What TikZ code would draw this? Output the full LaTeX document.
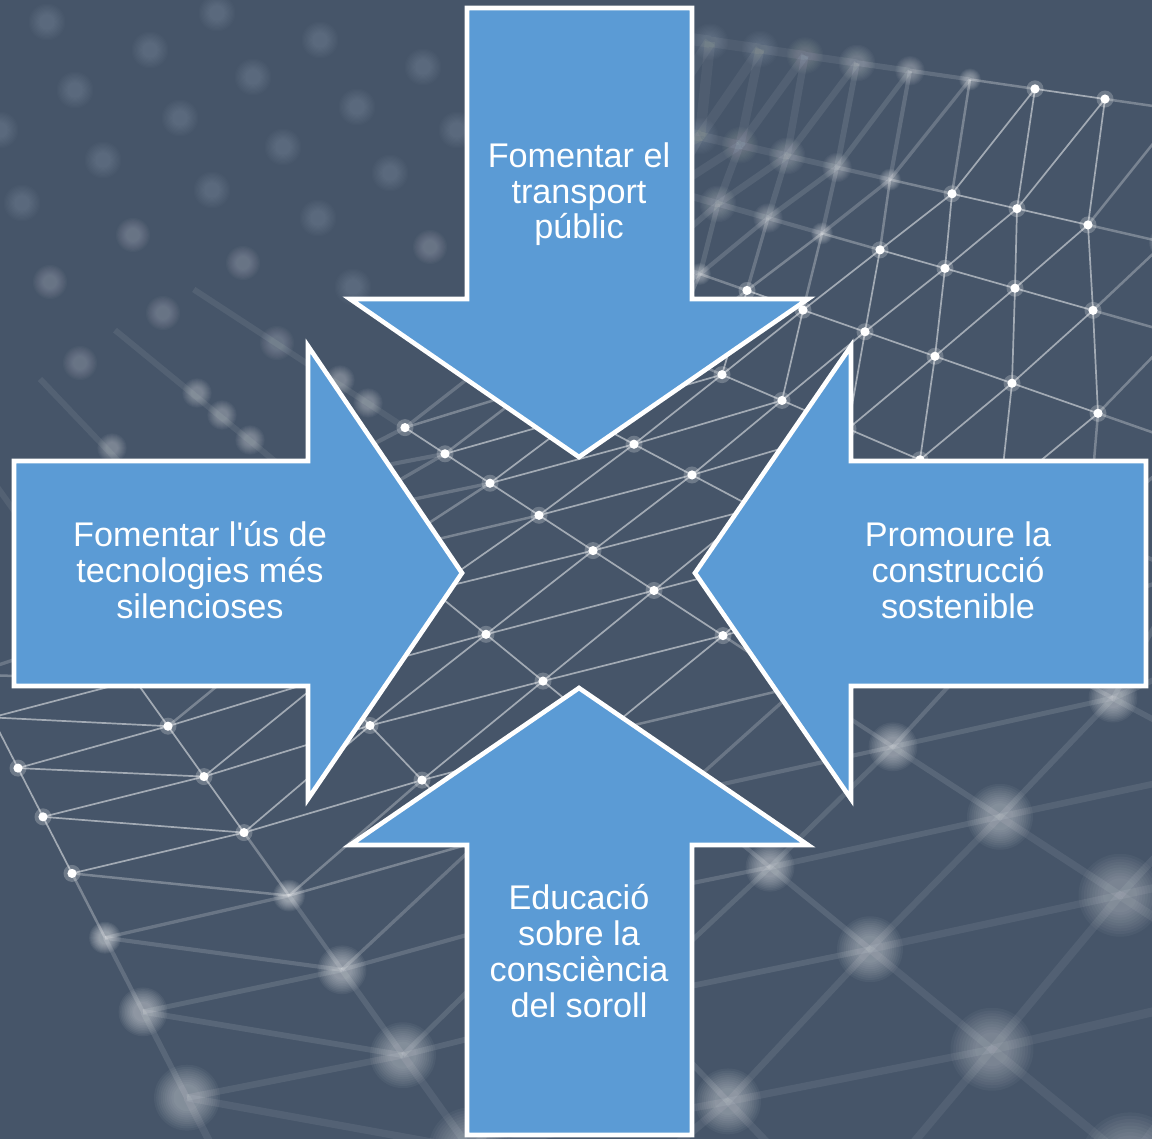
\documentclass[tikz,border=0pt]{standalone}
\usepackage{fontspec}
\setmainfont{Liberation Sans}
\usetikzlibrary{calc}

\definecolor{bgc}{HTML}{465569}
\definecolor{arrowblue}{HTML}{5B9BD5}

% one ray of the wire mesh: #1 index, #2 slope from the vanishing point,
% #3..#4 index range in focus, #5 x positions of the mesh knots
\newcommand\meshrow[5]{%
  \foreach \x [count=\k from 0] in {#5} {%
    \pgfmathtruncatemacro\bl{max(#3-\k,0,\k-#4)}%
    \coordinate (m-#1-\k) at (\x,{-125+#2*(\x+440)});%
    \expandafter\xdef\csname mb-#1-\k\endcsname{\bl}%
    \pgfmathsetmacro\rv{\k<#3 ? min(6+3*\bl,15) : 6+7*\bl}%
    \pgfmathsetmacro\al{\k<#3 ? max(0.42-0.06*\bl,0.16) : max(0.5-0.05*\bl,0.3)}%
    \expandafter\xdef\csname mr-#1-\k\endcsname{\rv}%
    \expandafter\xdef\csname ma-#1-\k\endcsname{\al}%
  }}

% a mesh wire between two knots, softer where the knots are out of focus
\newcommand\meshseg[4]{%
  \pgfmathsetmacro\bb{(\csname mb-#1-#2\endcsname+\csname mb-#3-#4\endcsname)/2}%
  \pgfmathsetmacro\op{0.5/(1+1.6*\bb)}%
  \pgfmathsetmacro\lw{1.7+1.6*\bb}%
  \draw[white,line width=\lw pt,opacity=\op] (m-#1-#2) -- (m-#3-#4);}

% a soft, out-of-focus light spot
\newcommand\blurdot[3]{%
  \pgfmathsetmacro\bo{1-(1-#3)^(0.1)}%
  \foreach \f in {0.5,0.58,0.66,0.74,0.82,0.9,0.98,1.06,1.14,1.22}{\fill[white,opacity=\bo] #1 circle ({#2*\f});}}

% a sharp knot with a small glow
\newcommand\sharpdot[1]{%
  \fill[white,opacity=0.22] #1 circle (8.5);
  \fill[white] #1 circle (4.6);}

\begin{document}
\begin{tikzpicture}[x=1pt,y=-1pt,
  arrowshape/.style={fill=arrowblue,draw=white,line width=4.6pt,line join=miter,miter limit=10},
  lbl/.style={text=white,align=center,inner sep=0pt,font=\fontsize{34.2}{35.7}\selectfont}]

\useasboundingbox (0,0) rectangle (1152,1139);
\fill[bgc] (0,0) rectangle (1152,1139);

\begin{scope}
\clip (0,0) rectangle (1152,1139);

% mesh knots
\meshrow{1}{0.145}{7}{8}{660,710,760,805,857,910,970,1035,1105,1180,1260,1340}
\meshrow{2}{0.229}{6}{8}{655,700,740,787,837,890,952,1017,1088,1165,1250,1340}
\meshrow{3}{0.284}{5}{8}{625,670,718,768,822,880,945,1015,1093,1175,1265,1360}
\meshrow{4}{0.35}{3}{8}{610,655,700,747,803,865,935,1012,1098,1190,1290,1390}
\meshrow{5}{0.43}{3}{7}{565,615,667,722,782,848,920,1000,1088,1185,1290,1400}
\meshrow{6}{0.53}{2}{7}{485,530,580,634,692,755,825,905,995,1113,1240,1380}
\meshrow{7}{0.654}{0}{6}{405,445,490,539,593,654,723,800,893,1000,1120,1260}
\meshrow{8}{0.82}{3}{6}{300,340,385,432,486,543,605,680,770,870,992,1130}
\meshrow{9}{1.05}{3}{6}{200,240,282,325,370,422,480,548,630,728,845,980}
\meshrow{10}{1.40}{1}{4}{100,135,168,204,244,289,342,403,470,545,630,720}
\meshrow{11}{1.95}{1}{4}{-30,-8,18,43,72,105,143,187,237,293,360,430}

% far ends of the lower rays, fading towards the vanishing point
\foreach \r in {7,...,11}{
  \draw[white,opacity=0.07,line width=6pt] (m-\r-0) -- ($(m-\r-0)!0.25!(-440,-125)$);}

% wires along the rays
\foreach \r in {1,...,11}{
  \foreach \k in {0,...,10}{
    \pgfmathtruncatemacro\kn{\k+1}
    \meshseg{\r}{\k}{\r}{\kn}}}
% wires across the rays and the diagonals
\foreach \r in {1,...,10}{
  \pgfmathtruncatemacro\rn{\r+1}
  \foreach \k in {0,...,11}{\meshseg{\r}{\k}{\rn}{\k}}
  \foreach \k in {0,...,10}{
    \pgfmathtruncatemacro\kn{\k+1}
    \meshseg{\rn}{\k}{\r}{\kn}}}

% knots
\foreach \r in {1,...,11}{
  \foreach \k in {0,...,11}{
    \edef\bl{\csname mb-\r-\k\endcsname}
    \ifnum\bl=0 \sharpdot{(m-\r-\k)}\else
      \blurdot{(m-\r-\k)}{\csname mr-\r-\k\endcsname}{\csname ma-\r-\k\endcsname}\fi}}

% distant, defocused knots in the upper left
\foreach \px/\py in {47/22,150/50,253/77,357/107,423/67,320/40,217/13,75/90,180/118,
  283/147,390/173,22/203,103/160,212/190,318/218,0/130,457/130,353/287}
  {\blurdot{(\px,\py)}{15}{0.14}}
\foreach \px/\py in {50/282,133/235,243/263,163/313,80/363,277/343,430/247}
  {\blurdot{(\px,\py)}{14}{0.22}}
\foreach \px/\py in {197/393,222/415,250/440,112/448,368/403,340/380}
  {\blurdot{(\px,\py)}{12}{0.3}}
\end{scope}

% four arrows pointing to the centre
\draw[arrowshape] (467,8) -- (692,8) -- (692,299) -- (808,299) -- (579,457)
  -- (350,299) -- (467,299) -- cycle;
\draw[arrowshape] (579,688) -- (808,845) -- (692,845) -- (692,1135) -- (467,1135)
  -- (467,845) -- (350,845) -- cycle;
\draw[arrowshape] (14,461) -- (308,461) -- (308,346) -- (462,573) -- (308,799)
  -- (308,686) -- (14,686) -- cycle;
\draw[arrowshape] (695,573) -- (851,346) -- (851,461) -- (1146,461) -- (1146,686)
  -- (851,686) -- (851,799) -- cycle;

% labels (anchored on the baseline of their last line)
\node[lbl,anchor=base] (ltop) at (579,239) {Fomentar el\\transport\\públic};
\node[lbl,anchor=base] (lleft) at (200,618) {Fomentar l\textquotesingle ús de\\tecnologies més\\silencioses};
\node[lbl,anchor=base] (lright) at (958,618) {Promoure la\\construcció\\sostenible};
\node[lbl,anchor=base] (lbottom) at (579,1017) {Educació\\sobre la\\consciència\\del soroll};
\end{tikzpicture}
\end{document}
